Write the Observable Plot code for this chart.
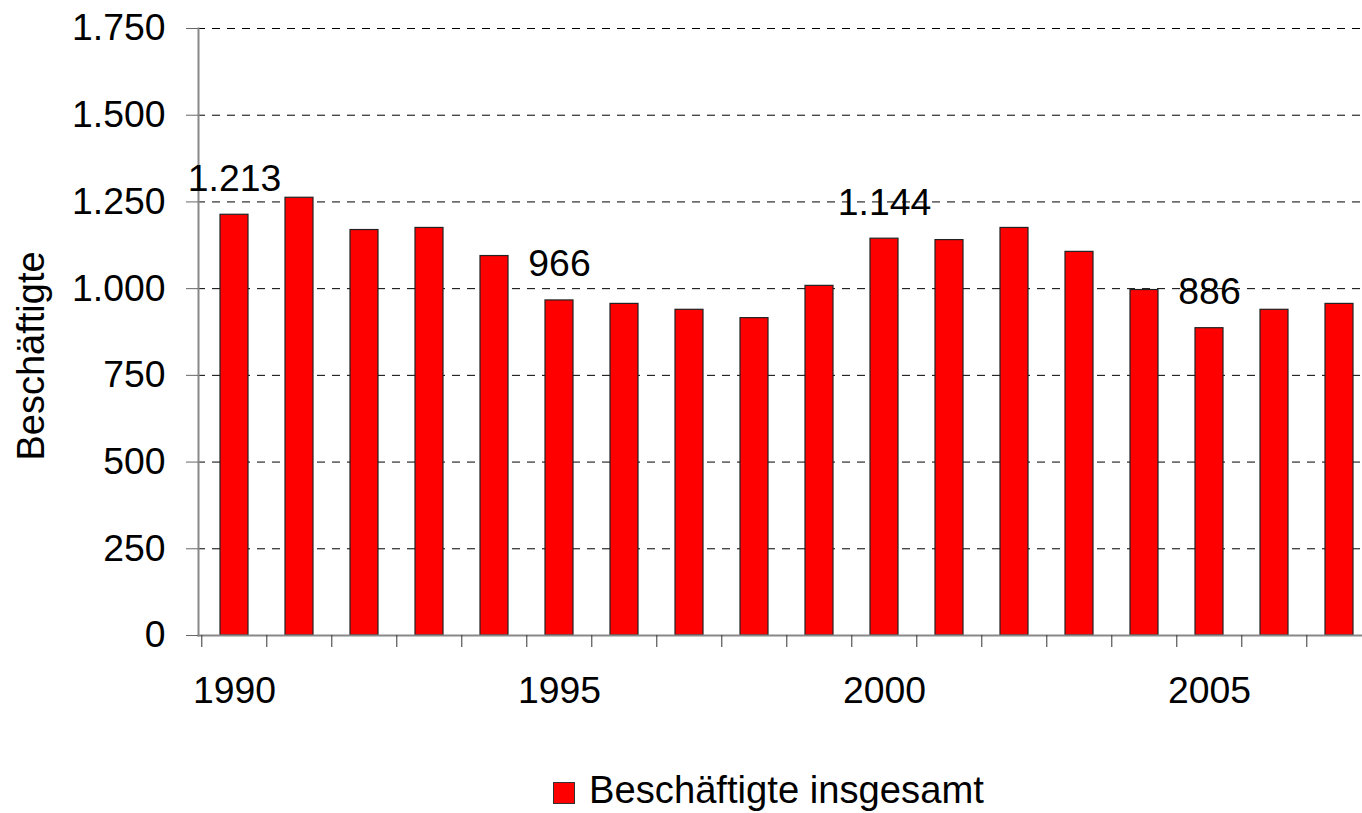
<!DOCTYPE html>
<html>
<head>
<meta charset="utf-8">
<script src="https://cdn.jsdelivr.net/npm/d3@7"></script>
<script src="https://cdn.jsdelivr.net/npm/@observablehq/plot@0.6"></script>
<style>
  html, body { margin: 0; padding: 0; background: #fff; overflow: hidden; width: 1362px; height: 813px; }
  body { font-family: "Liberation Sans", Arial, sans-serif; position: relative; }
  #chart svg { display: block; overflow: hidden; }
  .legend-swatch { position: absolute; left: 553px; top: 782px; width: 22px; height: 22px; box-sizing: border-box; background: #ff0000; border: 1px solid #333; }
  .legend-text { position: absolute; left: 589px; top: 771px; font-size: 38.2px; line-height: 38.2px; color: #000; white-space: nowrap; }
</style>
</head>
<body>
<div id="chart"></div>
<div class="legend-swatch"></div>
<div class="legend-text" id="legendText"></div>
<script>
// ---- Data ----
const years = [1990, 1991, 1992, 1993, 1994, 1995, 1996, 1997, 1998, 1999, 2000, 2001, 2002, 2003, 2004, 2005, 2006, 2007];
const values = [1213, 1262, 1169, 1175, 1094, 966, 956, 939, 915, 1008, 1144, 1140, 1175, 1106, 996, 886, 939, 956];
const labeledYears = [1990, 1995, 2000, 2005];
const yTicks = [0, 250, 500, 750, 1000, 1250, 1500, 1750];
const xLabelTicks = [1990, 1995, 2000, 2005];
const seriesName = "Beschäftigte insgesamt";
const yTitle = "Beschäftigte";

const data = years.map((year, i) => ({year, value: values[i]}));
const labeled = data.filter(d => labeledYears.includes(d.year));

const de = d3.formatLocale({decimal: ",", thousands: ".", grouping: [3], currency: ["", " €"]});
const fmt = de.format(",d");

const W = 1362, H = 740;
const font = "37.33px";

const chart = Plot.plot({
  width: W,
  height: H,
  marginLeft: 198,
  marginRight: -13,
  marginTop: 28,
  marginBottom: H - 635,
  style: {fontFamily: "'Liberation Sans', Arial, sans-serif", fontSize: font, color: "#000", background: "#fff"},
  x: {type: "band", domain: years, paddingInner: 0.573, paddingOuter: 0.2865, axis: null},
  y: {domain: [0, 1750], axis: null},
  marks: [
    // dashed gridlines
    Plot.ruleY(yTicks.filter(d => d > 0), {stroke: "#000", strokeWidth: 1, strokeDasharray: "8,7", strokeDashoffset: -14}),
    // bars
    Plot.barY(data, {x: "year", y: "value", fill: "#ff0000", stroke: "#222", strokeWidth: 1.2}),
    // axis lines
    Plot.frame({anchor: "left", stroke: "#888", strokeWidth: 2}),
    Plot.frame({anchor: "bottom", stroke: "#888", strokeWidth: 2}),
    // y axis ticks & labels
    Plot.axisY({ticks: yTicks, tickSize: 12, tickPadding: 21, tickFormat: fmt, stroke: "#666", fontSize: font, label: null}),
    // x axis ticks at category boundaries
    Plot.axisX({ticks: years, tickSize: 12, tickFormat: () => "", dx: -32.7, stroke: "#333", label: null}),
    // x axis labels
    Plot.axisX({ticks: xLabelTicks, tickSize: 0, tickPadding: 41, tickFormat: d => `${d}`, fontSize: font, label: null}),
    // value labels
    Plot.text(labeled, {x: "year", y: "value", text: d => fmt(d.value), dy: -24, lineAnchor: "bottom", fontSize: font, fill: "#000"}),
    // y-axis title
    Plot.text([yTitle], {text: d => d, frameAnchor: "left", rotate: -90, dx: -155, dy: 24, lineAnchor: "bottom", textAnchor: "middle", fontSize: "38px", fill: "#000"})
  ]
});

document.getElementById("chart").appendChild(chart);
document.getElementById("legendText").textContent = seriesName;
</script>
</body>
</html>
